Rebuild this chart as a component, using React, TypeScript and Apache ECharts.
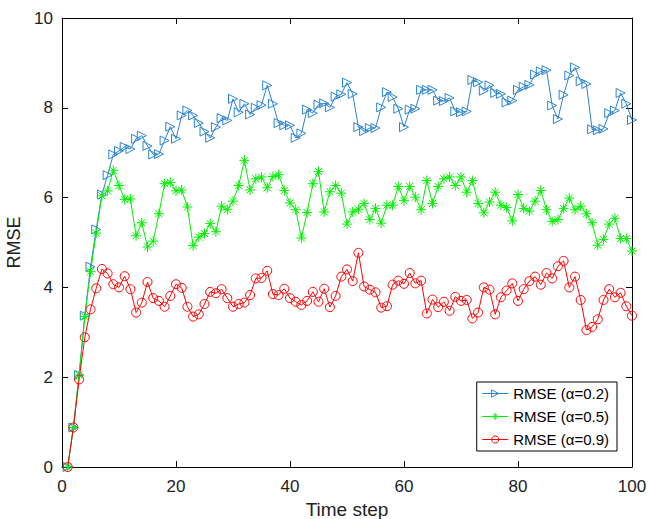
import React, { useEffect, useRef } from 'react';
import * as echarts from 'echarts';

const timeSteps: number[] = Array.from({ length: 100 }, (_, i) => i + 1);

const rmseAlpha02: number[] = [
  0, 0.88, 2.05, 3.37, 4.46, 5.29, 6.07, 6.5, 6.96, 7.04,
  7.13, 7.08, 7.31, 7.38, 7.15, 6.96, 6.97, 7.27, 7.58, 7.31,
  7.83, 7.94, 7.83, 7.66, 7.47, 7.33, 7.57, 7.77, 7.72, 8.2,
  7.9, 8.09, 7.85, 8.0, 8.06, 8.5, 8.09, 7.66, 7.61, 7.61,
  7.33, 7.43, 7.96, 7.88, 8.07, 8.1, 8.01, 8.25, 8.3, 8.56,
  8.31, 7.57, 7.48, 7.55, 7.55, 8.01, 8.35, 8.24, 7.98, 7.57,
  7.96, 7.98, 8.4, 8.4, 8.4, 8.16, 8.15, 8.22, 7.92, 7.9,
  7.92, 8.62, 8.57, 8.38, 8.5, 8.33, 8.31, 8.12, 8.16, 8.4,
  8.47, 8.51, 8.74, 8.81, 8.84, 8.05, 7.75, 8.29, 8.72, 8.9,
  8.59, 8.53, 7.52, 7.5, 7.53, 7.88, 7.94, 8.33, 8.09, 7.73,
];

const rmseAlpha05: number[] = [
  0, 0.88, 2.05, 3.35, 4.35, 5.21, 6.04, 6.15, 6.61, 6.27,
  5.96, 5.97, 5.15, 5.44, 4.9, 5.03, 5.64, 6.31, 6.34, 6.15,
  6.17, 5.79, 4.93, 5.12, 5.2, 5.42, 5.24, 5.81, 5.73, 5.92,
  6.27, 6.83, 6.17, 6.42, 6.46, 6.22, 6.47, 6.51, 6.16, 5.88,
  5.73, 5.1, 5.67, 6.31, 6.58, 5.68, 6.13, 6.27, 6.1, 5.41,
  5.68, 5.74, 5.87, 5.51, 5.76, 5.43, 5.83, 5.83, 6.25, 5.93,
  6.25, 6.01, 5.73, 6.38, 5.87, 6.25, 6.42, 6.46, 6.27, 6.46,
  6.12, 6.38, 5.87, 5.66, 5.9, 6.12, 5.83, 5.78, 5.48, 6.07,
  5.76, 5.7, 5.92, 6.16, 5.73, 5.47, 5.51, 5.76, 5.99, 5.73,
  5.81, 5.64, 5.44, 4.94, 5.07, 5.41, 5.54, 5.09, 5.09, 4.81,
];

const rmseAlpha09: number[] = [
  0, 0.88, 1.95, 2.89, 3.51, 3.98, 4.41, 4.31, 4.07, 4.0,
  4.25, 3.96, 3.44, 3.66, 4.12, 3.76, 3.7, 3.57, 3.81, 4.07,
  3.99, 3.57, 3.35, 3.4, 3.63, 3.9, 3.87, 3.96, 3.76, 3.57,
  3.63, 3.66, 3.83, 4.2, 4.21, 4.37, 3.85, 3.83, 3.97, 3.76,
  3.68, 3.61, 3.7, 3.9, 3.68, 3.97, 3.56, 3.81, 4.24, 4.4,
  4.14, 4.77, 4.02, 3.95, 3.89, 3.55, 3.58, 4.06, 4.15, 4.08,
  4.32, 4.09, 4.15, 3.42, 3.73, 3.56, 3.68, 3.48, 3.79, 3.7,
  3.72, 3.31, 3.44, 4.0, 3.95, 3.4, 3.78, 3.93, 4.09, 3.7,
  3.96, 4.14, 4.24, 4.06, 4.32, 4.2, 4.47, 4.59, 4.0, 4.24,
  3.72, 3.05, 3.12, 3.29, 3.72, 3.96, 3.78, 3.88, 3.58, 3.37,
];

const seriesNames: string[] = ['RMSE (α=0.2)', 'RMSE (α=0.5)', 'RMSE (α=0.9)'];
const seriesColors: string[] = ['#2a84d2', '#00f000', '#ff0000'];
const xTicks: number[] = [0, 20, 40, 60, 80, 100];
const yTicks: number[] = [0, 2, 4, 6, 8, 10];

const FONT = '"Liberation Sans", Arial, Helvetica, sans-serif';
const TRI = 'path://M0,0L10,5L0,10Z';
const STAR = 'path://M5,0L5,10M0,5L10,5M1.5,1.5L8.5,8.5M1.5,8.5L8.5,1.5';
const symbols: string[] = [TRI, STAR, 'circle'];
const symbolSizes: number[] = [9, 10, 9];

function pairs(vals: number[]): number[][] {
  return vals.map((v, i) => [timeSteps[i], v]);
}

export default function App() {
  const ref = useRef<HTMLDivElement>(null);
  useEffect(() => {
    if (!ref.current) return;
    const chart = echarts.init(ref.current, undefined, { renderer: 'svg' });
    const axisLine = { show: true, onZero: false, lineStyle: { color: '#000', width: 1 } };
    const axisTick = { show: true, inside: true, length: 6, lineStyle: { color: '#000' } };
    const datasets = [rmseAlpha02, rmseAlpha05, rmseAlpha09];
    const series = datasets.map((d, k) => ({
      name: seriesNames[k],
      type: 'line',
      data: pairs(d),
      symbol: symbols[k],
      symbolSize: symbolSizes[k],
      showAllSymbol: true,
      lineStyle: { color: seriesColors[k], width: 1 },
      itemStyle: { color: 'rgba(255,255,255,0)', borderColor: seriesColors[k], borderWidth: 1 },
      emphasis: { disabled: true },
    }));
    chart.setOption({
      animation: false,
      backgroundColor: '#fff',
      textStyle: { fontFamily: FONT },
      grid: { left: 62, right: 16, top: 18, bottom: 52, containLabel: false, outerBoundsMode: 'none' },
      legend: {
        data: seriesNames.map((n, k) => ({
          name: n,
          itemStyle: { color: 'rgba(255,255,255,0)', borderColor: seriesColors[k], borderWidth: 1 },
          lineStyle: { color: seriesColors[k], width: 1 },
        })),
        orient: 'vertical',
        right: 31,
        top: 382,
        itemWidth: 26,
        itemHeight: 9,
        itemGap: 8,
        padding: [4, 8, 4, 5],
        borderColor: '#000',
        borderWidth: 1,
        backgroundColor: '#fff',
        lineStyle: { width: 1 },
        textStyle: { fontFamily: FONT, fontSize: 15, color: '#000' },
      },
      xAxis: [
        {
          type: 'value',
          min: xTicks[0],
          max: xTicks[xTicks.length - 1],
          interval: xTicks[1] - xTicks[0],
          name: 'Time step',
          nameLocation: 'middle',
          nameGap: 31,
          nameTextStyle: { fontSize: 19, color: '#222', fontFamily: FONT },
          axisLine,
          axisTick,
          axisLabel: { fontSize: 17, color: '#222', margin: 11, fontFamily: FONT },
          splitLine: { show: false },
        },
        {
          type: 'value',
          position: 'top',
          min: xTicks[0],
          max: xTicks[xTicks.length - 1],
          interval: xTicks[1] - xTicks[0],
          axisLine,
          axisTick,
          axisLabel: { show: false },
          splitLine: { show: false },
        },
      ],
      yAxis: [
        {
          type: 'value',
          min: yTicks[0],
          max: yTicks[yTicks.length - 1],
          interval: yTicks[1] - yTicks[0],
          name: 'RMSE',
          nameLocation: 'middle',
          nameGap: 33,
          nameTextStyle: { fontSize: 18, color: '#222', fontFamily: FONT },
          axisLine,
          axisTick,
          axisLabel: { fontSize: 17, color: '#222', margin: 9, fontFamily: FONT },
          splitLine: { show: false },
        },
        {
          type: 'value',
          position: 'right',
          min: yTicks[0],
          max: yTicks[yTicks.length - 1],
          interval: yTicks[1] - yTicks[0],
          axisLine,
          axisTick,
          axisLabel: { show: false },
          splitLine: { show: false },
        },
      ],
      series,
    });
    return () => chart.dispose();
  }, []);
  return (
    <div
      ref={ref}
      style={{ position: 'fixed', left: 0, top: 0, width: 648, height: 519, background: '#fff' }}
    />
  );
}
